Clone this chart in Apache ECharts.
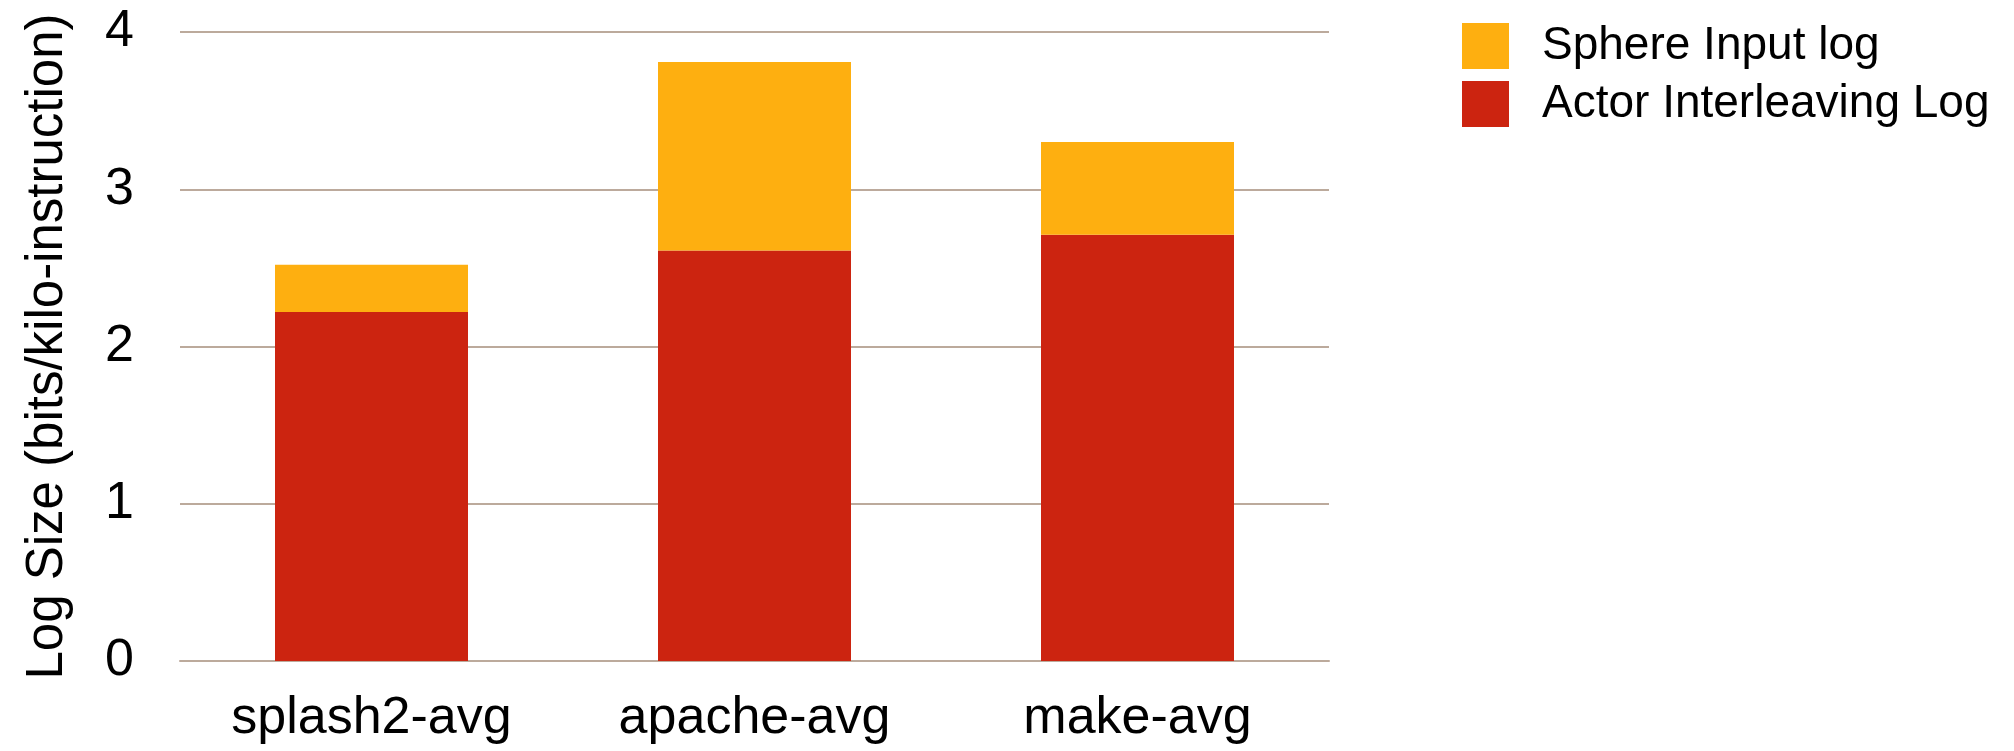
<!DOCTYPE html>
<html>
<head>
<meta charset="utf-8">
<script src="https://cdn.jsdelivr.net/npm/echarts@6/dist/echarts.min.js"></script>
<style>
html,body{margin:0;padding:0;background:#fff;}
#chart{width:2014px;height:751px;}
</style>
</head>
<body>
<div id="chart"></div>
<script>
var categories = ['splash2-avg', 'apache-avg', 'make-avg'];
var actorInterleaving = [2.22, 2.61, 2.71];
var sphereInput = [0.30, 1.20, 0.59];
var yTicks = [0, 1, 2, 3, 4];

var FONT = '"Liberation Sans", Arial, Helvetica, sans-serif';
var chart = echarts.init(document.getElementById('chart'), null, {renderer: 'canvas'});
chart.setOption({
  animation: false,
  backgroundColor: '#ffffff',
  textStyle: {fontFamily: FONT},
  grid: {left: 180, right: 685, top: 32, bottom: 90, containLabel: false},
  legend: {
    orient: 'vertical',
    left: 1457,
    top: 18,
    itemWidth: 47,
    itemHeight: 46,
    itemGap: 12,
    icon: 'rect',
    data: ['Sphere Input log', 'Actor Interleaving Log'],
    textStyle: {fontFamily: FONT, fontSize: 46, color: '#000', padding: [0, 0, 0, 28]}
  },
  xAxis: {
    type: 'category',
    data: categories,
    axisLine: {show: true, lineStyle: {color: '#bcaa9c', width: 2}},
    axisTick: {show: false},
    axisLabel: {fontFamily: FONT, fontSize: 52, color: '#000', margin: 32}
  },
  yAxis: {
    type: 'value',
    min: yTicks[0],
    max: yTicks[yTicks.length - 1],
    interval: 1,
    name: 'Log Size (bits/kilo-instruction)',
    nameLocation: 'middle',
    nameRotate: 90,
    nameGap: 107,
    nameTextStyle: {fontFamily: FONT, fontSize: 51, color: '#000'},
    axisLine: {show: false},
    axisTick: {show: false},
    axisLabel: {fontFamily: FONT, fontSize: 52, color: '#000', margin: 46},
    splitLine: {show: true, lineStyle: {color: '#bcaa9c', width: 2}}
  },
  series: [
    {
      name: 'Actor Interleaving Log',
      type: 'bar',
      stack: 'log',
      barWidth: 193,
      itemStyle: {color: '#cc2410'},
      data: actorInterleaving
    },
    {
      name: 'Sphere Input log',
      type: 'bar',
      stack: 'log',
      barWidth: 193,
      itemStyle: {color: '#feaf10'},
      data: sphereInput
    }
  ]
});
</script>
</body>
</html>
